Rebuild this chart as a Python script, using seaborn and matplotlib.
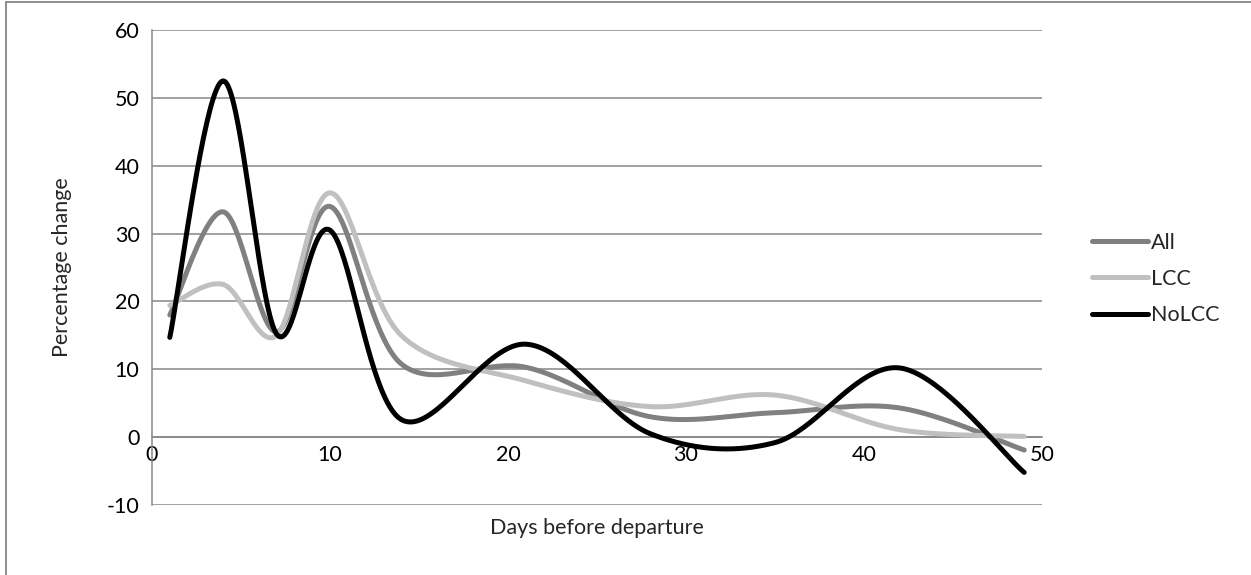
import numpy as np
import pandas as pd
import matplotlib
matplotlib.use("Agg")
import matplotlib.pyplot as plt
from matplotlib.lines import Line2D
import seaborn as sns

# Observations: percentage change in fares by days before departure
days = [1, 4, 7, 10, 14, 21, 28, 35, 42, 49]
all_vals = [18.0, 33.2, 15.5, 34.0, 10.8, 10.3, 3.0, 3.6, 4.3, -1.9]
lcc_vals = [19.4, 22.5, 15.0, 36.0, 15.0, 8.3, 4.5, 6.2, 1.1, 0.1]
nolcc_vals = [14.7, 52.5, 15.2, 30.5, 2.6, 13.7, 0.5, -0.8, 10.2, -5.2]

series_names = ["All", "LCC", "NoLCC"]
series_vals = [all_vals, lcc_vals, nolcc_vals]
colors = {"All": "#808080", "LCC": "#C0C0C0", "NoLCC": "#000000"}

y_ticks = [-10, 0, 10, 20, 30, 40, 50, 60]
x_ticks = [0, 10, 20, 30, 40, 50]


def smooth_curve(xs, ys, steps=40):
    """Spreadsheet-style smoothed line: cubic Bezier segments with
    Catmull-Rom control points (tangent = neighbour difference / 6)."""
    pts = np.column_stack([xs, ys]).astype(float)
    n = len(pts)
    out = []
    t = np.linspace(0, 1, steps)[:, None]
    for i in range(n - 1):
        p0 = pts[i]
        p3 = pts[i + 1]
        prev = pts[i - 1] if i > 0 else pts[i]
        nxt = pts[i + 2] if i + 2 < n else pts[i + 1]
        c1 = p0 + (p3 - prev) / 6.0
        c2 = p3 - (nxt - p0) / 6.0
        seg = ((1 - t) ** 3) * p0 + 3 * ((1 - t) ** 2) * t * c1 \
            + 3 * (1 - t) * t ** 2 * c2 + t ** 3 * p3
        out.append(seg if i == 0 else seg[1:])
    arr = np.vstack(out)
    return arr[:, 0], arr[:, 1]


frames = []
for name, vals in zip(series_names, series_vals):
    sx, sy = smooth_curve(days, vals)
    frames.append(pd.DataFrame({"day": sx, "pct": sy, "series": name,
                                "order": np.arange(len(sx))}))
df = pd.concat(frames, ignore_index=True)

sns.set_theme(style="white")
plt.rcParams["font.family"] = ["Lato", "DejaVu Sans"]
plt.rcParams["axes.unicode_minus"] = False

FS = 15.5
W, H = 1251, 575
fig = plt.figure(figsize=(W / 100, H / 100), dpi=100)
ax = fig.add_axes([152 / W, 1 - 505 / H, (1042 - 152) / W, (505 - 30) / H])

grid_c = "#868686"
for yv in y_ticks:
    ax.axhline(yv, color=grid_c, lw=1.1, zorder=0)

sns.lineplot(data=df, x="day", y="pct", hue="series", palette=colors,
             hue_order=series_names, sort=False, estimator=None, units="series",
             lw=3.6, ax=ax, legend=False, zorder=3)
for line in ax.lines:
    line.set_solid_capstyle("round")
    line.set_solid_joinstyle("round")

ax.set_xlim(0, 50)
ax.set_ylim(-10, 60)
ax.set_yticks(y_ticks)
ax.set_xticks(x_ticks)
ax.tick_params(axis="both", labelsize=FS, colors=grid_c, labelcolor="black",
               direction="out", length=4, width=1.1)
ax.tick_params(axis="x", pad=2)
ax.tick_params(axis="y", pad=5)

for side in ["top", "right"]:
    ax.spines[side].set_visible(False)
ax.spines["left"].set_color(grid_c)
ax.spines["left"].set_linewidth(1.1)
ax.spines["bottom"].set_position(("data", 0))
ax.spines["bottom"].set_color(grid_c)
ax.spines["bottom"].set_linewidth(1.1)

ax.set_xlabel("")
ax.set_ylabel("")
fig.text(597 / W, 1 - 528 / H, "Days before departure", ha="center", va="center",
         fontsize=FS)
fig.text(62 / W, 1 - 267 / H, "Percentage change", ha="center", va="center",
         rotation=90, fontsize=FS)

handles = [Line2D([0], [0], color=colors[n], lw=3.6, solid_capstyle="round")
           for n in series_names]
fig.legend(handles, series_names, loc="center left",
           bbox_to_anchor=(1092 / W, 1 - 279 / H), frameon=False,
           fontsize=FS, handlelength=2.6, handletextpad=0.15,
           labelspacing=0.75, borderpad=0, borderaxespad=0)

# outer chart frame
fig.add_artist(Line2D([5.5 / W, 5.5 / W], [0, 1 - 1.5 / H], color=grid_c,
                      lw=1.3, transform=fig.transFigure))
fig.add_artist(Line2D([5.5 / W, 1], [1 - 1.5 / H, 1 - 1.5 / H], color=grid_c,
                      lw=1.3, transform=fig.transFigure))

fig.savefig("out.png", dpi=100, facecolor="white")
